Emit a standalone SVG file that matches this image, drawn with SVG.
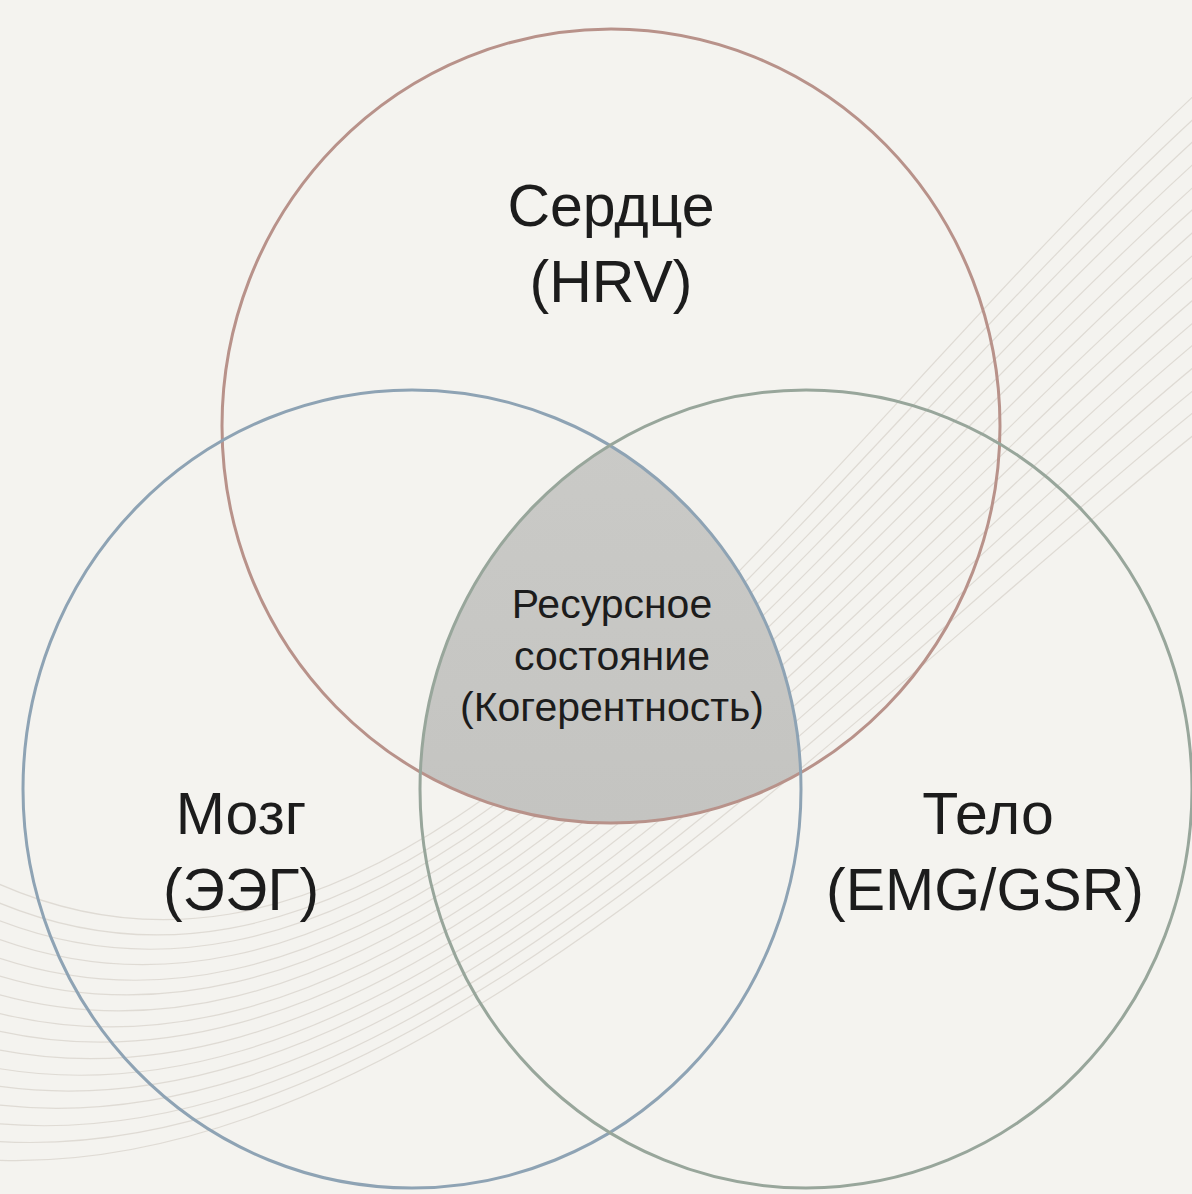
<svg xmlns="http://www.w3.org/2000/svg" width="1192" height="1194" viewBox="0 0 1192 1194">
  <style>
    .bg-line { fill: none; stroke: #dad6cf; stroke-width: 1.2; opacity: 0.85; }
    .circle { fill: none; stroke-width: 3; }
    .label { font-family: "Liberation Sans", Arial, sans-serif; fill: #1c1c1c; text-anchor: middle; }
    .big { font-size: 59px; }
    .small { font-size: 41px; }
  </style>
  <defs>
    <clipPath id="clipBlue"><ellipse cx="412" cy="789" rx="389" ry="399"/></clipPath>
    <clipPath id="clipGreen"><ellipse cx="806" cy="789" rx="386" ry="399"/></clipPath>
    <linearGradient id="grayFill" x1="0" y1="0" x2="0" y2="1">
      <stop offset="0" stop-color="#d0d0cd"/>
      <stop offset="1" stop-color="#c4c4c1"/>
    </linearGradient>
  </defs>
  <rect width="1192" height="1194" fill="#f4f3ef"/>
  <g id="background-lines">
    <path class="bg-line" d="M-10,880 C420,1080 780,480 1200,90"/>
    <path class="bg-line" d="M-10,899 C420,1087 785,495 1200,113"/>
    <path class="bg-line" d="M-10,917 C420,1093 791,509 1200,135"/>
    <path class="bg-line" d="M-10,936 C420,1100 796,524 1200,158"/>
    <path class="bg-line" d="M-10,955 C420,1107 801,539 1200,181"/>
    <path class="bg-line" d="M-10,973 C420,1113 807,553 1200,203"/>
    <path class="bg-line" d="M-10,992 C420,1120 812,568 1200,226"/>
    <path class="bg-line" d="M-10,1011 C420,1127 817,583 1200,249"/>
    <path class="bg-line" d="M-10,1029 C420,1133 823,597 1200,271"/>
    <path class="bg-line" d="M-10,1048 C420,1140 828,612 1200,294"/>
    <path class="bg-line" d="M-10,1067 C420,1147 833,627 1200,317"/>
    <path class="bg-line" d="M-10,1085 C420,1153 839,641 1200,339"/>
    <path class="bg-line" d="M-10,1104 C420,1160 844,656 1200,362"/>
    <path class="bg-line" d="M-10,1123 C420,1167 849,671 1200,385"/>
    <path class="bg-line" d="M-10,1141 C420,1173 855,685 1200,407"/>
    <path class="bg-line" d="M-10,1160 C420,1180 860,700 1200,430"/>
  </g>
  <g id="center">
    <g clip-path="url(#clipGreen)">
      <g clip-path="url(#clipBlue)">
        <ellipse cx="611" cy="426" rx="389" ry="397" fill="url(#grayFill)"/>
      </g>
    </g>
    <text class="label small" x="612" y="618">Ресурсное</text>
    <text class="label small" x="612" y="670">состояние</text>
    <text class="label small" x="612" y="721">(Когерентность)</text>
  </g>
  <g id="heart">
    <ellipse class="circle" cx="611" cy="426" rx="389" ry="397" stroke="#b8928a"/>
    <text class="label big" x="611" y="226">Сердце</text>
    <text class="label big" x="611" y="302">(HRV)</text>
  </g>
  <g id="brain">
    <ellipse class="circle" cx="412" cy="789" rx="389" ry="399" stroke="#8ea3b4"/>
    <text class="label big" x="241" y="834">Мозг</text>
    <text class="label big" x="241" y="910">(ЭЭГ)</text>
  </g>
  <g id="body">
    <ellipse class="circle" cx="806" cy="789" rx="386" ry="399" stroke="#98a69b"/>
    <text class="label big" x="988" y="834">Тело</text>
    <text class="label big" x="985" y="910">(EMG/GSR)</text>
  </g>
  <g id="connectors"/>
</svg>
